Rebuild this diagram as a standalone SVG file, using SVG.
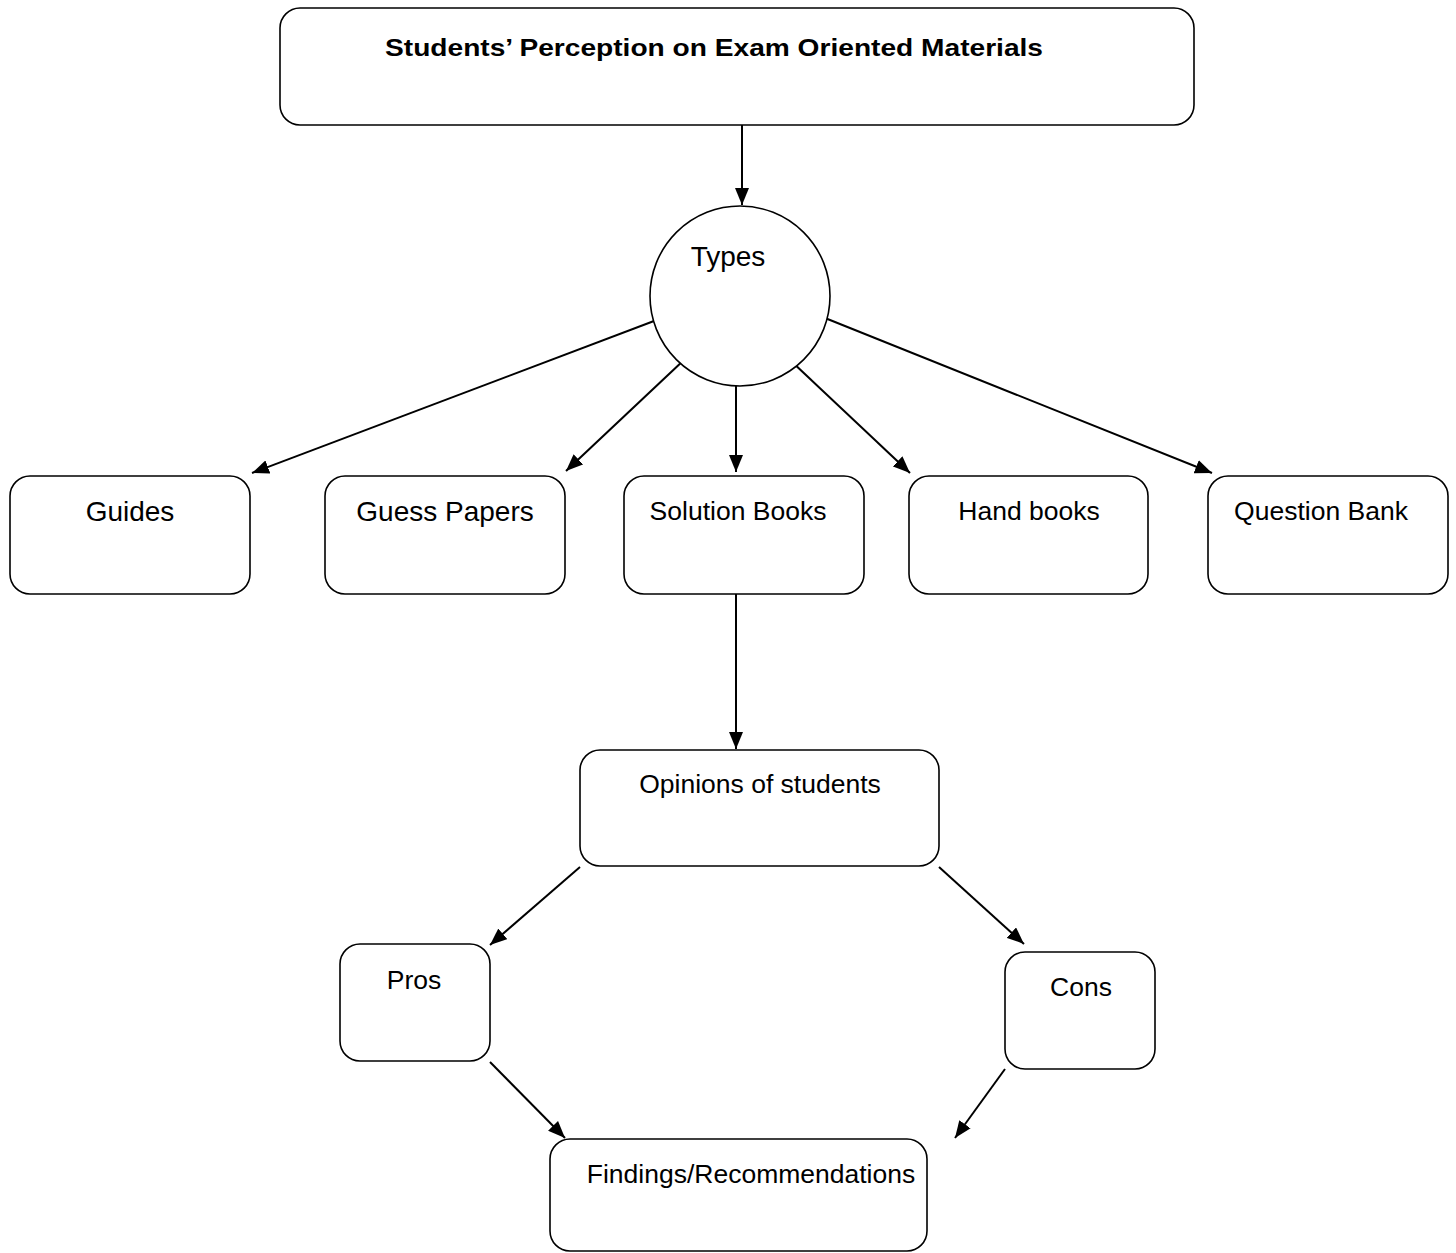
<svg xmlns="http://www.w3.org/2000/svg" width="1456" height="1253" viewBox="0 0 1456 1253">
<style>
.box{fill:#fff;stroke:#000;stroke-width:1.6}
.t{font-family:"Liberation Sans",Arial,sans-serif;font-size:26.5px;fill:#000;text-anchor:middle}
.big{font-size:28px}
.title{font-family:"Liberation Sans",Arial,sans-serif;font-size:24px;font-weight:bold;fill:#000;text-anchor:middle}
.c{stroke:#000;stroke-width:2;fill:none;marker-end:url(#ah)}
</style>
<defs>
<marker id="ah" markerUnits="userSpaceOnUse" markerWidth="18" markerHeight="14" refX="17" refY="7" orient="auto">
<path d="M0,0 L17,7 L0,14 z" fill="#000"/>
</marker>
</defs>
<rect width="1456" height="1253" fill="#fff"/>
<g id="connectors">
<line class="c" x1="742" y1="125" x2="742" y2="205"/>
<line class="c" x1="654" y1="321" x2="252" y2="473"/>
<line class="c" x1="685" y1="359" x2="566" y2="471"/>
<line class="c" x1="736" y1="362" x2="736" y2="472"/>
<line class="c" x1="790" y1="360" x2="910" y2="473"/>
<line class="c" x1="825" y1="318" x2="1212" y2="473"/>
<line class="c" x1="736" y1="594" x2="736" y2="749"/>
<line class="c" x1="580" y1="867" x2="490" y2="945"/>
<line class="c" x1="939" y1="867" x2="1024" y2="944"/>
<line class="c" x1="490" y1="1062" x2="565" y2="1138"/>
<line class="c" x1="1005" y1="1069" x2="955" y2="1138"/>
</g>
<g id="title">
<rect class="box" x="280" y="8" width="914" height="117" rx="20"/>
<text class="title" x="714" y="56" textLength="658" lengthAdjust="spacingAndGlyphs">Students’ Perception on Exam Oriented Materials</text>
</g>
<g id="types">
<ellipse class="box" cx="740" cy="296" rx="90" ry="90"/>
<text class="t big" x="728" y="266">Types</text>
</g>
<g id="guides">
<rect class="box" x="10" y="476" width="240" height="118" rx="20"/>
<text class="t big" x="130" y="521">Guides</text>
</g>
<g id="guess-papers">
<rect class="box" x="325" y="476" width="240" height="118" rx="20"/>
<text class="t big" x="445" y="521">Guess Papers</text>
</g>
<g id="solution-books">
<rect class="box" x="624" y="476" width="240" height="118" rx="20"/>
<text class="t" x="738" y="520">Solution Books</text>
</g>
<g id="hand-books">
<rect class="box" x="909" y="476" width="239" height="118" rx="20"/>
<text class="t" x="1029" y="520">Hand books</text>
</g>
<g id="question-bank">
<rect class="box" x="1208" y="476" width="240" height="118" rx="20"/>
<text class="t" x="1321" y="520">Question Bank</text>
</g>
<g id="opinions">
<rect class="box" x="580" y="750" width="359" height="116" rx="20"/>
<text class="t" x="760" y="793">Opinions of students</text>
</g>
<g id="pros">
<rect class="box" x="340" y="944" width="150" height="117" rx="20"/>
<text class="t" x="414" y="989">Pros</text>
</g>
<g id="cons">
<rect class="box" x="1005" y="952" width="150" height="117" rx="20"/>
<text class="t" x="1081" y="996">Cons</text>
</g>
<g id="findings">
<rect class="box" x="550" y="1139" width="377" height="112" rx="20"/>
<text class="t" x="751" y="1183">Findings/Recommendations</text>
</g>
</svg>
